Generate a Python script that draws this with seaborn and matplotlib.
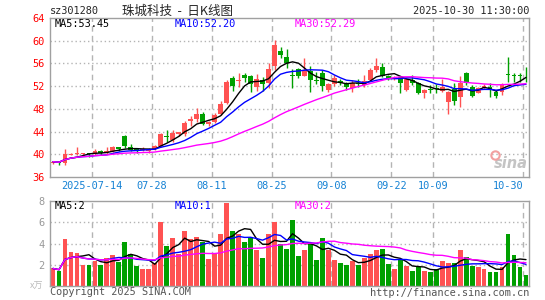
import numpy as np
import pandas as pd
import matplotlib
matplotlib.use("Agg")
import matplotlib.pyplot as plt
import seaborn as sns

sns.set_style("white")
plt.rcParams['font.family'] = ['DejaVu Sans Mono', 'Noto Sans CJK SC']

# daily candles, 2025-07-03 .. 2025-10-30 (80 trading days)
opens = [38.4, 38.7, 38.5, 39.9, 40.0, 40.0, 40.2, 40.1, 40.6, 40.3,
         40.6, 41.2, 43.3, 41.2, 40.9, 40.7, 40.6, 40.9, 41.4, 43.2,
         42.6, 43.6, 43.5, 45.9, 46.3, 47.1, 45.3, 45.7, 47.1, 49.1,
         53.4, 52.9, 54.0, 53.7, 51.9, 53.1, 52.5, 55.6, 58.2, 57.1,
         53.9, 55.0, 53.8, 54.7, 53.1, 54.4, 51.3, 52.3, 52.9, 52.5,
         51.6, 52.6, 52.2, 53.1, 54.8, 55.3, 53.7, 53.3, 53.55, 51.33,
         53.1, 52.6, 50.86, 51.5, 51.7, 51.21, 49.27, 51.45, 50.15, 54.26,
         51.91, 50.86, 51.62, 51.8, 51.04, 51.04, 54.1, 53.9, 53.9, 53.8]
highs = [38.9, 38.8, 40.9, 40.3, 41.2, 40.3, 40.3, 40.9, 40.8, 41.2,
         41.5, 41.3, 43.4, 41.8, 41.0, 41.2, 41.1, 41.6, 43.7, 44.3,
         44.3, 44.0, 45.9, 46.8, 48.1, 47.4, 45.9, 47.2, 49.3, 53.0,
         53.7, 54.3, 54.3, 54.0, 54.2, 53.6, 56.0, 60.2, 58.9, 58.5,
         55.0, 55.2, 56.9, 55.5, 54.5, 54.8, 52.5, 53.9, 53.2, 52.8,
         53.0, 53.2, 53.9, 55.2, 56.9, 56.0, 54.0, 53.7, 53.7, 53.4,
         54.0, 52.8, 51.45, 52.2, 52.4, 53.2, 51.2, 52.5, 53.7, 54.55,
         52.2, 51.8, 52.4, 52.5, 51.33, 52.6, 57.1, 54.4, 54.4, 55.4]
lows = [38.3, 38.2, 38.1, 39.8, 39.9, 39.8, 39.6, 39.9, 39.9, 40.1,
        40.4, 40.5, 41.1, 40.5, 40.3, 40.5, 40.3, 40.7, 41.2, 42.2,
        42.2, 43.3, 43.3, 44.9, 45.7, 45.1, 44.9, 45.5, 46.9, 48.9,
        51.2, 51.9, 52.8, 50.9, 51.1, 51.1, 51.6, 54.9, 56.9, 55.2,
        51.6, 53.5, 53.7, 51.0, 52.3, 51.1, 50.9, 52.0, 52.2, 51.4,
        51.0, 51.8, 51.9, 52.9, 54.5, 53.6, 53.1, 53.1, 50.86, 51.2,
        52.2, 50.6, 49.98, 50.74, 50.8, 51.0, 47.05, 48.7, 48.4, 52.2,
        50.15, 50.74, 51.45, 50.15, 49.86, 50.45, 52.8, 52.8, 52.8, 52.8]
closes = [38.7, 38.5, 40.0, 40.1, 40.1, 40.1, 40.0, 40.6, 40.3, 40.6,
          41.2, 40.9, 41.5, 40.8, 40.6, 40.9, 40.8, 41.4, 43.6, 43.0,
          43.8, 43.9, 45.5, 46.3, 47.1, 45.4, 45.6, 46.9, 48.9, 52.8,
          52.0, 53.0, 53.5, 52.4, 53.2, 52.4, 55.0, 59.2, 57.5, 56.0,
          53.7, 53.8, 54.9, 53.1, 52.9, 52.0, 52.3, 53.5, 52.5, 51.8,
          52.6, 52.4, 52.9, 54.8, 55.5, 53.8, 53.4, 53.5, 52.5, 53.2,
          52.5, 50.74, 51.33, 51.4, 51.5, 51.91, 51.04, 49.45, 52.5, 52.5,
          50.33, 51.62, 52.03, 51.33, 50.33, 52.38, 54.0, 53.8, 53.8, 53.7]
# volume in 10k shares
volumes = [1.65, 1.42, 4.43, 3.2, 3.1, 2.0, 2.0, 2.4, 1.95, 2.6,
           2.9, 2.26, 4.15, 3.0, 1.89, 1.6, 1.6, 2.14, 6.04, 3.77,
           4.53, 3.0, 5.19, 4.43, 4.6, 4.15, 2.58, 3.0, 4.9, 7.83,
           5.19, 4.9, 4.15, 4.56, 3.4, 2.64, 4.9, 6.0, 4.0, 3.5,
           6.2, 2.83, 3.4, 4.0, 2.45, 4.5, 3.4, 2.45, 2.17, 2.0,
           2.36, 2.0, 2.64, 3.0, 3.4, 3.5, 2.07, 1.6, 2.45, 1.9,
           1.42, 1.76, 1.42, 1.32, 1.6, 2.36, 2.17, 2.17, 3.4, 2.74,
           1.9, 1.79, 1.6, 1.32, 1.32, 1.79, 4.9, 2.9, 1.79, 1.04]

tick_dates = ["2025-07-14", "2025-07-28", "2025-08-11", "2025-08-25",
              "2025-09-08", "2025-09-22", "2025-10-09", "2025-10-30"]
tick_labels = ["2025-07-14", "07-28", "08-11", "08-25", "09-08", "09-22", "10-09", "10-30"]
price_ticks = [36, 40, 44, 48, 52, 56, 60, 64]
vol_ticks = [2, 4, 6, 8]

RED = "#ff5252"
GREEN = "#00a000"
GRID = "#b4b4b4"

days = pd.bdate_range("2025-07-03", "2025-10-30")
days = days[(days < "2025-10-01") | (days > "2025-10-08")]  # national day holiday

df = pd.DataFrame({"open": opens, "high": highs, "low": lows, "close": closes,
                   "vol": volumes}, index=days)
df["i"] = np.arange(len(df))
df["dir"] = np.where(df["close"] >= df["open"], "up", "down")
for n in (5, 10, 30):
    df["ma%d" % n] = df["close"].rolling(n, min_periods=1).mean()
    df["vma%d" % n] = df["vol"].rolling(n, min_periods=1).mean()

tick_idx = [df.index.get_loc(pd.Timestamp(d)) for d in tick_dates]

fig = plt.figure(figsize=(5.45, 3.0), dpi=100)
ax1 = fig.add_axes([50/545, 123/300, 479/545, 159/300])
ax2 = fig.add_axes([50/545, 14/300, 479/545, 85/300])

# candles
colors = np.where(df["dir"] == "up", RED, GREEN)
ax1.vlines(df["i"], df["low"], df["high"], colors=colors, lw=1, zorder=2)
body_lo = df[["open", "close"]].min(axis=1)
body_h = (df["close"] - df["open"]).abs().clip(lower=0.14)
ax1.bar(df["i"], body_h, bottom=body_lo, width=0.8, color=colors, linewidth=0, zorder=3)

sns.lineplot(x=df["i"], y=df["ma5"], ax=ax1, color="black", lw=1, zorder=4)
sns.lineplot(x=df["i"], y=df["ma10"], ax=ax1, color="#0000ff", lw=1, zorder=4)
sns.lineplot(x=df["i"], y=df["ma30"], ax=ax1, color="#ff00ff", lw=1, zorder=4)

# volume
sns.barplot(x=df["i"], y=df["vol"], hue=df["dir"], palette={"up": RED, "down": GREEN},
            dodge=False, legend=False, width=0.8, saturation=1, linewidth=0, ax=ax2, zorder=2)
sns.lineplot(x=df["i"], y=df["vma5"], ax=ax2, color="black", lw=1, zorder=4)
sns.lineplot(x=df["i"], y=df["vma10"], ax=ax2, color="#0000ff", lw=1, zorder=4)
sns.lineplot(x=df["i"], y=df["vma30"], ax=ax2, color="#ff00ff", lw=1, zorder=4)

for ax in (ax1, ax2):
    ax.set_xlim(-0.5, len(df) - 0.5)
    for t in tick_idx:
        ax.axvline(t - 0.5, color=GRID, ls=(0, (4, 3)), lw=1, zorder=1)
    for s in ax.spines.values():
        s.set_color("#a0a0a0")
        s.set_linewidth(1)
    ax.set_xlabel("")
    ax.set_ylabel("")
    ax.tick_params(length=0, labelsize=7.4, pad=4)

ax1.set_ylim(36, 64)
for y in price_ticks[1:-1]:
    ax1.axhline(y, color=GRID, ls=(0, (1, 2)), lw=1, zorder=1)
ax1.set_yticks(price_ticks)
ax1.set_yticklabels([str(p) for p in price_ticks], color="red")
ax1.set_xticks([t - 0.5 for t in tick_idx])
ax1.set_xticklabels(tick_labels, color="#1682d4")
ax1.get_xticklabels()[-1].set_horizontalalignment("right")
ax1.tick_params(axis="x", pad=3)

ax2.set_ylim(0, 8)
for y in vol_ticks[:-1]:
    ax2.axhline(y, color=GRID, ls=(0, (1, 2)), lw=1, zorder=1)
ax2.set_yticks(vol_ticks)
ax2.set_yticklabels([str(v) for v in vol_ticks], color="#999999")
ax2.set_xticks([])

# sina watermark
ax1.text(0.997, 0.04, "sina", transform=ax1.transAxes, ha="right", va="bottom",
         fontsize=10.5, fontstyle="italic", fontweight="bold", color="#c4c4c4",
         family="DejaVu Sans", zorder=1)
ax1.plot([0.93], [0.14], transform=ax1.transAxes, marker="o", ms=6, mfc="none",
         mec="#f2a0a0", mew=1.5, zorder=1)

# header texts
fs = 7.4
fig.text(50/545, 1 - 11/300, "sz301280", fontsize=fs, va="center", ha="left")
fig.text(122/545, 1 - 11/300, "珠城科技  -  日K线图", fontsize=9, va="center", ha="left",
         family=["Noto Sans CJK SC", "DejaVu Sans"])
fig.text(529/545, 1 - 11/300, "2025-10-30 11:30:00", fontsize=fs, va="center", ha="right")

fig.text(55/545, 1 - 24/300, "MA5:53.45", fontsize=fs, va="center", color="black")
fig.text(175/545, 1 - 24/300, "MA10:52.20", fontsize=fs, va="center", color="#0000ff")
fig.text(295/545, 1 - 24/300, "MA30:52.29", fontsize=fs, va="center", color="#ff00ff")

fig.text(55/545, 1 - 206/300, "MA5:2", fontsize=fs, va="center", color="black")
fig.text(175/545, 1 - 206/300, "MA10:1", fontsize=fs, va="center", color="#0000ff")
fig.text(295/545, 1 - 206/300, "MA30:2", fontsize=fs, va="center", color="#ff00ff")

fig.text(30/545, 1 - 286/300, "x万", fontsize=6.5, va="center", color="#bbbbbb",
         family=["Noto Sans CJK SC", "DejaVu Sans"])
fig.text(50/545, 1 - 292/300, "Copyright 2025 SINA.COM", fontsize=fs, va="center", color="#555555")
fig.text(529/545, 1 - 293/300, "http://finance.sina.com.cn", fontsize=fs, va="center",
         ha="right", color="#555555")

fig.savefig("out.png", dpi=100)
